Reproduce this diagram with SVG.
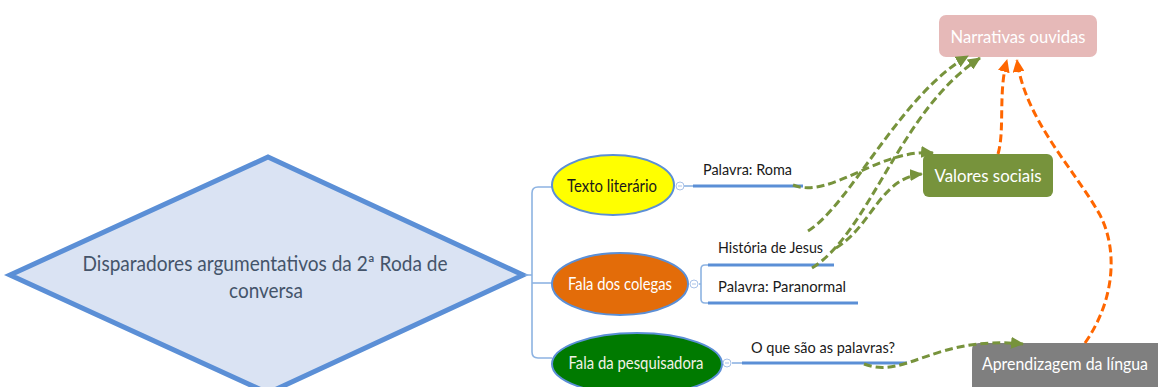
<svg xmlns="http://www.w3.org/2000/svg" width="1158" height="387" viewBox="0 0 1158 387">
<style>
  text { font-family: Lato, "Liberation Sans", "DejaVu Sans", sans-serif; }
  .lbl { font-size: 16px; fill: #1a1a1a; }
  .tree { fill: none; stroke: #8db3e2; stroke-width: 1.6; }
  .ul { stroke: #5b8fd6; stroke-width: 3; }
  .ell { stroke: #5b8fd6; stroke-width: 2; }
  .knob { fill: #ffffff; stroke: #a9c2e8; stroke-width: 1; }
  .knobm { stroke: #a9c2e8; stroke-width: 1; }
  .g { fill: none; stroke: #77933c; stroke-width: 3; stroke-dasharray: 8 4; marker-end: url(#ag); }
  .o { fill: none; stroke: #ff6600; stroke-width: 3; stroke-dasharray: 8 4; marker-end: url(#ao); }
  .wt { fill: #ffffff; font-size: 17px; }
</style>
<defs>
  <marker id="ag" markerUnits="userSpaceOnUse" markerWidth="14" markerHeight="12" refX="12" refY="6" orient="auto">
    <path d="M0,0 L13,6 L0,12 z" fill="#77933c"/>
  </marker>
  <marker id="ao" markerUnits="userSpaceOnUse" markerWidth="14" markerHeight="12" refX="12" refY="6" orient="auto">
    <path d="M0,0 L13,6 L0,12 z" fill="#ff6600"/>
  </marker>
</defs>

<g id="diamond">
  <polygon points="10,275 268,157 523,275 268,393" fill="#dae3f3" stroke="#5b8fd6" stroke-width="5" stroke-linejoin="miter"/>
  <text x="265" y="271" text-anchor="middle" font-size="21" fill="#44546a" textLength="365" lengthAdjust="spacingAndGlyphs">Disparadores argumentativos da 2ª Roda de</text>
  <text x="266" y="298" text-anchor="middle" font-size="21" fill="#44546a" textLength="74" lengthAdjust="spacingAndGlyphs">conversa</text>
</g>

<g id="tree">
  <path class="tree" d="M523,275 H532"/>
  <path d="M519,271 L526,275 L519,279 z" fill="#5b8fd6"/>
  <path class="tree" d="M552,187 H538 Q532,187 532,193 V352 Q532,358 538,358 H552"/>
  <path class="tree" d="M532,283 H552"/>
  <path class="tree" d="M684,186 H693"/>
  <path class="tree" d="M699,284 H701"/>
  <path class="tree" d="M708,265 H705 Q701,265 701,269 V299 Q701,303 705,303 H708"/>
  <path class="tree" d="M732,363 H742"/>
</g>

<g id="texto-literario">
  <ellipse class="ell" cx="613" cy="185" rx="61" ry="30" fill="#ffff00"/>
  <text x="612" y="192" text-anchor="middle" font-size="17" fill="#1a1a1a" textLength="90" lengthAdjust="spacingAndGlyphs">Texto literário</text>
  <circle class="knob" cx="680" cy="186" r="4"/>
  <path class="knobm" d="M678,186 H682"/>
</g>

<g id="fala-colegas">
  <ellipse class="ell" cx="620" cy="284" rx="68" ry="31" fill="#e36c09"/>
  <text x="620" y="290" text-anchor="middle" font-size="17" fill="#ffffff" textLength="104" lengthAdjust="spacingAndGlyphs">Fala dos colegas</text>
  <circle class="knob" cx="694" cy="284" r="4"/>
  <path class="knobm" d="M692,284 H696"/>
</g>

<g id="fala-pesquisadora">
  <ellipse class="ell" cx="637" cy="364" rx="85" ry="31" fill="#007a00"/>
  <text x="636" y="369" text-anchor="middle" font-size="17" fill="#f2f2e6" textLength="135" lengthAdjust="spacingAndGlyphs">Fala da pesquisadora</text>
  <circle class="knob" cx="727" cy="363" r="4"/>
  <path class="knobm" d="M725,363 H729"/>
</g>

<g id="palavra-roma">
  <line class="ul" x1="693" y1="186" x2="803" y2="186"/>
  <text class="lbl" x="703" y="175" textLength="89" lengthAdjust="spacingAndGlyphs">Palavra: Roma</text>
</g>

<g id="historia-jesus">
  <line class="ul" x1="708" y1="265" x2="834" y2="265"/>
  <text class="lbl" x="718" y="253" textLength="105" lengthAdjust="spacingAndGlyphs">História de Jesus</text>
</g>

<g id="palavra-paranormal">
  <line class="ul" x1="708" y1="303" x2="858" y2="303"/>
  <text class="lbl" x="718" y="292" textLength="128" lengthAdjust="spacingAndGlyphs">Palavra: Paranormal</text>
</g>

<g id="o-que-sao">
  <line class="ul" x1="742" y1="363" x2="907" y2="363"/>
  <text class="lbl" x="751" y="353" textLength="144" lengthAdjust="spacingAndGlyphs">O que são as palavras?</text>
</g>

<g id="narrativas-ouvidas">
  <rect x="939" y="15" width="158" height="42" rx="7" fill="#e6b9b8"/>
  <text class="wt" x="1018" y="43" text-anchor="middle" textLength="135" lengthAdjust="spacingAndGlyphs">Narrativas ouvidas</text>
</g>

<g id="valores-sociais">
  <rect x="923" y="154" width="130" height="43" rx="6" fill="#77933c"/>
  <text class="wt" x="988" y="182" text-anchor="middle" textLength="107" lengthAdjust="spacingAndGlyphs">Valores sociais</text>
</g>

<g id="aprendizagem">
  <path d="M979,343 H1158 V387 H972 V350 Q972,343 979,343 z" fill="#7f7f7f"/>
  <text class="wt" x="982" y="370" font-size="16" textLength="166" lengthAdjust="spacingAndGlyphs">Aprendizagem da língua</text>
</g>

<g id="connectors">
  <path class="g" d="M793,185 C830,200 880,148 933,153"/>
  <path class="g" d="M808,231 C850,205 900,95 968,56"/>
  <path class="g" d="M812,268 C870,232 900,110 980,58"/>
  <path class="g" d="M836,248 C872,226 880,178 922,174"/>
  <path class="g" d="M864,364 C905,380 935,335 1023,344"/>
  <path class="o" d="M998,154 C1005,130 998,92 1007,60"/>
  <path class="o" d="M1085,343 C1115,300 1118,250 1100,215 C1075,170 1025,120 1017,60"/>
</g>
</svg>
